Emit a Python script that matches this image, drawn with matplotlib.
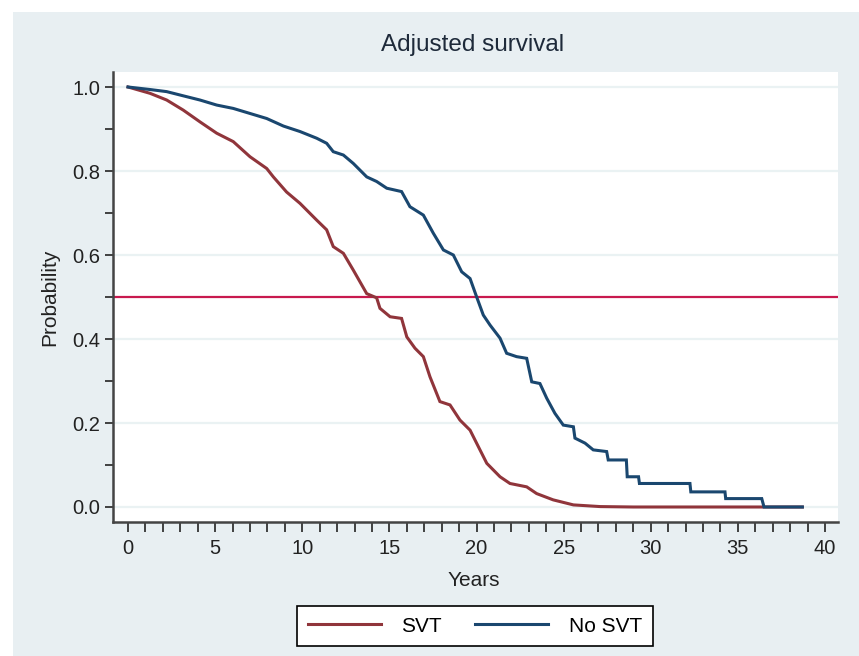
import matplotlib
matplotlib.use("Agg")
import matplotlib.pyplot as plt
from matplotlib.patches import Rectangle
from matplotlib.lines import Line2D

plt.rcParams['font.family'] = ['Liberation Sans', 'DejaVu Sans']

# Data
svt_years = [0, 1.26, 2.22, 3.17, 4.13, 5.09, 6.04, 7.0, 7.96, 8.34, 9.1, 9.87, 10.83, 11.4,
             11.78, 12.36, 12.93, 13.7, 14.27, 14.46, 15.04, 15.7, 16.0, 16.47, 16.95, 17.33,
             17.9, 18.48, 19.05, 19.63, 20.2, 20.59, 21.35, 21.92, 22.88, 23.45, 24.4, 25.56,
             27.1, 29.0, 38.7]
svt_surv = [1.0, 0.985, 0.969, 0.945, 0.917, 0.89, 0.87, 0.834, 0.806, 0.786, 0.75, 0.723,
            0.683, 0.66, 0.62, 0.604, 0.564, 0.508, 0.498, 0.473, 0.453, 0.449, 0.405, 0.378,
            0.358, 0.31, 0.251, 0.243, 0.207, 0.183, 0.136, 0.104, 0.072, 0.056, 0.048, 0.032,
            0.017, 0.005, 0.001, 0.0, 0.0]

nosvt_years = [0, 1.26, 2.22, 3.17, 4.13, 5.09, 6.04, 7.0, 7.96, 8.92, 9.87, 10.83, 11.4,
               11.78, 12.36, 12.93, 13.7, 14.27, 14.85, 15.7, 16.18, 16.95, 17.52, 18.1,
               18.67, 19.15, 19.63, 20.01, 20.39, 20.78, 21.35, 21.73, 22.3, 22.88, 23.17,
               23.64, 24.03, 24.5, 24.98, 25.56, 25.65, 26.23, 26.7, 27.47, 27.56, 28.6,
               28.65, 29.3, 29.35, 32.25, 32.3, 34.26, 34.3, 36.37, 36.5, 38.7]
nosvt_surv = [1.0, 0.994, 0.989, 0.979, 0.969, 0.957, 0.949, 0.937, 0.925, 0.907, 0.894,
              0.878, 0.866, 0.846, 0.838, 0.818, 0.786, 0.775, 0.759, 0.751, 0.715, 0.695,
              0.652, 0.612, 0.6, 0.56, 0.544, 0.5, 0.457, 0.433, 0.402, 0.366, 0.358, 0.354,
              0.298, 0.294, 0.259, 0.223, 0.195, 0.191, 0.164, 0.152, 0.136, 0.132, 0.112,
              0.112, 0.072, 0.072, 0.056, 0.056, 0.036, 0.036, 0.02, 0.02, 0.0, 0.0]

series_labels = ['SVT', 'No SVT']
reference_level = 0.5
x_ticks = [0, 5, 10, 15, 20, 25, 30, 35, 40]
y_ticks = [0.0, 0.2, 0.4, 0.6, 0.8, 1.0]

W, H = 859, 656
fig = plt.figure(figsize=(W / 100, H / 100), dpi=100, facecolor='white')
bg = '#e8eff2'
fig.patches.append(Rectangle((13 / W, 0), 1 - 13 / W, 1 - 12 / H, transform=fig.transFigure,
                             facecolor=bg, edgecolor='none', zorder=-10))

left, right, top, bottom = 113, 838, 72, 522
ax = fig.add_axes([left / W, 1 - bottom / H, (right - left) / W, (bottom - top) / H])
ax.set_zorder(1)
ax.set_facecolor('white')

x0px, pxyr = 128, 17.425
ax.set_xlim((left - x0px) / pxyr, (right - x0px) / pxyr)
y0px, pxunit = 507, 420
ax.set_ylim((y0px - bottom) / pxunit, (y0px - top) / pxunit)

for yv in y_ticks:
    ax.axhline(yv, color='#eaf2f3', lw=1.6, zorder=1)
ax.axhline(reference_level, color='#c8194e', lw=1.6, zorder=2)

red = '#90353b'
navy = '#1a476f'
ax.plot(svt_years, svt_surv, color=red, lw=2.2, zorder=3, solid_joinstyle='miter')
ax.plot(nosvt_years, nosvt_surv, color=navy, lw=2.2, zorder=4, solid_joinstyle='miter')

for s in ['top', 'right']:
    ax.spines[s].set_visible(False)
for s in ['left', 'bottom']:
    ax.spines[s].set_color('#444444')
    ax.spines[s].set_linewidth(1.8)

ax.set_xticks(x_ticks)
ax.set_xticks(range(0, 41), minor=True)
ax.set_xticklabels([str(v) for v in x_ticks])
ax.set_yticks(y_ticks)
ax.set_yticks([i / 10 for i in range(11)], minor=True)
ax.set_yticklabels([f'{v:.1f}' for v in y_ticks])
ax.tick_params(axis='x', which='both', length=7.5, width=1.3, color='#333333', direction='out',
               labelsize=14.5, pad=5, labelcolor='#222222')
ax.tick_params(axis='y', which='both', length=6, width=1.3, color='#333333', direction='out',
               labelsize=14.5, pad=3, labelcolor='#222222')

fig.text(473 / W, 1 - 45 / H, 'Adjusted survival', ha='center', va='center', fontsize=17.5,
         color='#1e2a3a')
fig.text(474 / W, 1 - 581 / H, 'Years', ha='center', va='center', fontsize=15, color='#222222')
fig.text(50 / W, 1 - 297 / H, 'Probability', ha='center', va='center', rotation=90,
         fontsize=15, color='#222222')

# legend
handles = [Line2D([], [], color=red, lw=2.2), Line2D([], [], color=navy, lw=2.2)]
leg = fig.legend(handles, series_labels, loc='center', bbox_to_anchor=(475 / W, 1 - 626 / H),
                 ncol=2, frameon=True, fontsize=15, handlelength=3.5, columnspacing=1.6,
                 handletextpad=1.0, borderpad=0.5, fancybox=False, framealpha=1)
leg.get_frame().set_edgecolor('black')
leg.get_frame().set_linewidth(1.2)
leg.get_frame().set_facecolor('white')

fig.savefig('out.png', dpi=100, facecolor='white')
